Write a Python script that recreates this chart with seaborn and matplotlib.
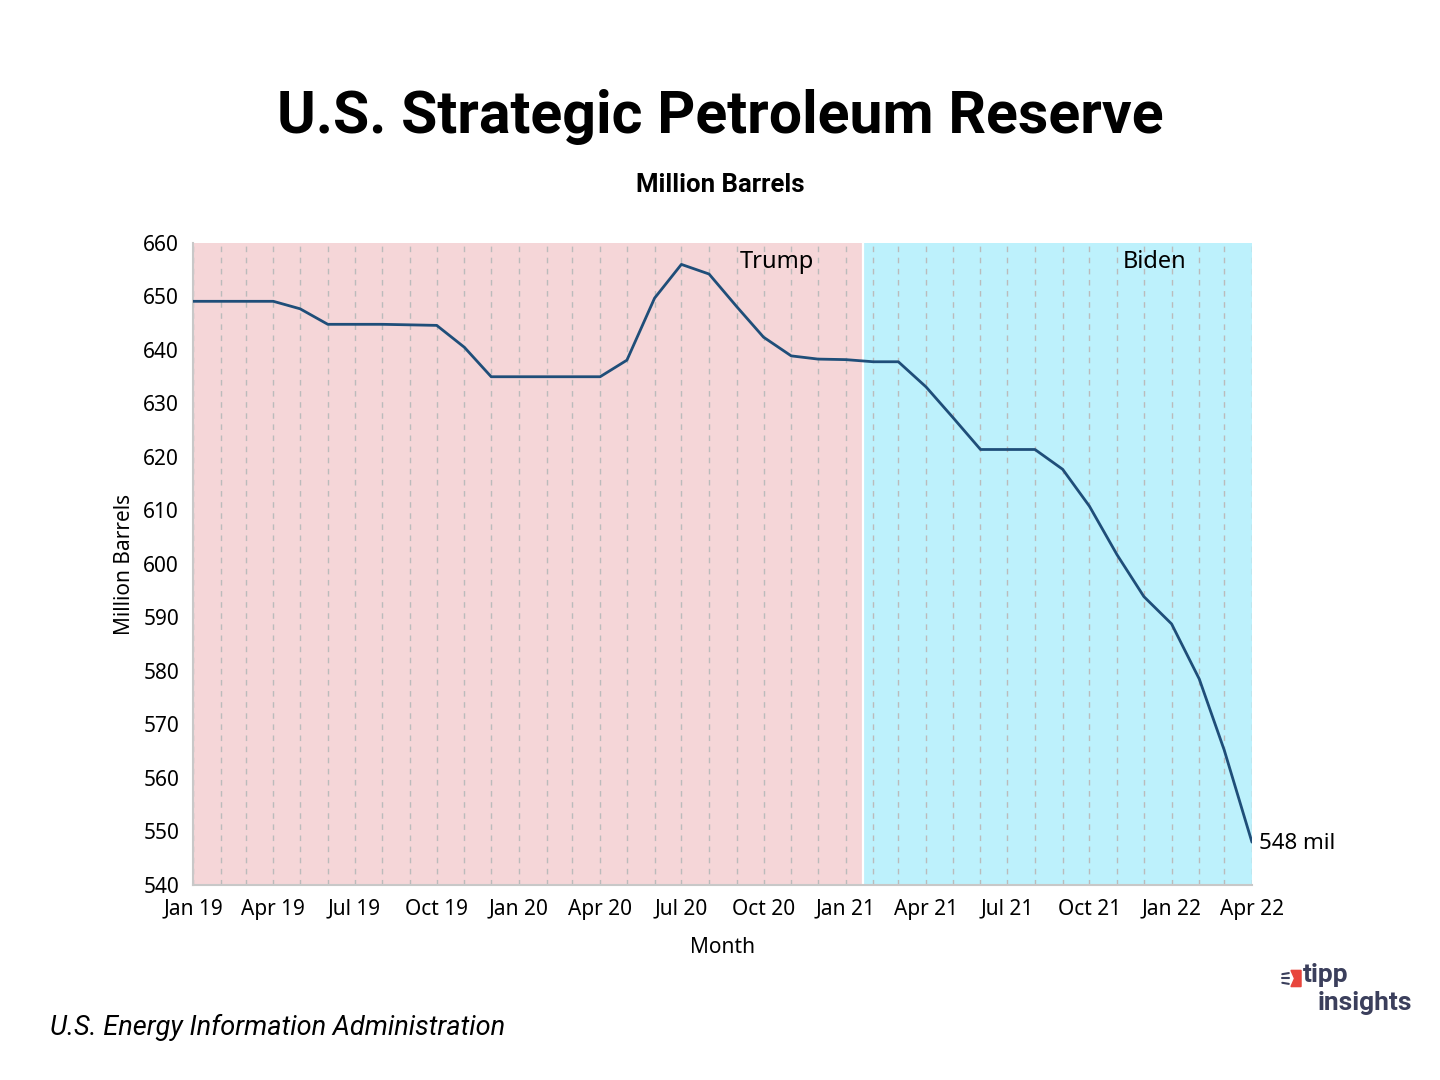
import pandas as pd
import numpy as np
import matplotlib
matplotlib.use("Agg")
import matplotlib.pyplot as plt
import matplotlib.dates as mdates
import seaborn as sns
from matplotlib.patches import Polygon
from matplotlib.lines import Line2D

# 月次データ
months = [
    "Jan 19", "Feb 19", "Mar 19", "Apr 19", "May 19", "Jun 19", "Jul 19", "Aug 19",
    "Sep 19", "Oct 19", "Nov 19", "Dec 19", "Jan 20", "Feb 20", "Mar 20", "Apr 20",
    "May 20", "Jun 20", "Jul 20", "Aug 20", "Sep 20", "Oct 20", "Nov 20", "Dec 20",
    "Jan 21", "Feb 21", "Mar 21", "Apr 21", "May 21", "Jun 21", "Jul 21", "Aug 21",
    "Sep 21", "Oct 21", "Nov 21", "Dec 21", "Jan 22", "Feb 22", "Mar 22", "Apr 22",
]
barrels = [
    649.1, 649.1, 649.1, 649.1, 647.7, 644.8, 644.8, 644.8,
    644.7, 644.6, 640.5, 635.0, 635.0, 635.0, 635.0, 635.0,
    638.1, 649.7, 656.0, 654.2, 648.1, 642.4, 638.9, 638.3,
    638.2, 637.8, 637.8, 633.1, 627.4, 621.4, 621.4, 621.4,
    617.7, 610.8, 601.7, 593.9, 588.8, 578.5, 565.2, 548.0,
]

# 政権期間
terms = ["Trump", "Biden"]
term_start = ["2019-01-01", "2021-01-20"]
term_end = ["2021-01-20", "2022-04-01"]
term_colors = ["#f5d6d8", "#bdf1fc"]
term_label_x = ["2020-10-16", "2021-12-13"]

df = pd.DataFrame({
    "Month": pd.to_datetime(months, format="%b %y"),
    "Million Barrels": barrels,
})

sns.set_style("white")
plt.rcParams["font.family"] = ["Noto Sans", "DejaVu Sans"]
plt.rcParams["text.color"] = "black"
plt.rcParams["axes.labelcolor"] = "black"

fig = plt.figure(figsize=(14.4, 10.8), dpi=100)
ax = fig.add_axes([0.134, 0.1806, 0.7354, 0.5944])

# 背景の塗り分け
for name, s, e, c in zip(terms, term_start, term_end, term_colors):
    ax.axvspan(pd.Timestamp(s), pd.Timestamp(e), color=c, lw=0, zorder=0)
ax.axvline(pd.Timestamp(term_start[1]), color="white", lw=1.6, zorder=1)

sns.lineplot(data=df, x="Month", y="Million Barrels", color="#1f4e79",
             linewidth=2, ax=ax, zorder=3)

ax.set_xlim(df["Month"].iloc[0], df["Month"].iloc[-1])
ax.set_ylim(540, 660)
ax.set_yticks(range(540, 661, 10))

ax.xaxis.set_major_locator(mdates.MonthLocator(bymonth=[1, 4, 7, 10]))
ax.xaxis.set_major_formatter(mdates.DateFormatter("%b %y"))
ax.xaxis.set_minor_locator(mdates.MonthLocator())
ax.grid(axis="x", which="both", linestyle=(0, (4, 4)), color="#bbbbbb",
        linewidth=1, zorder=1)
ax.grid(axis="y", visible=False)
ax.set_axisbelow(True)

for side in ["top", "right"]:
    ax.spines[side].set_visible(False)
for side in ["left", "bottom"]:
    ax.spines[side].set_color("#c8c8c8")
    ax.spines[side].set_linewidth(1.5)
ax.tick_params(axis="both", which="major", length=7, width=1, color="#c8c8c8",
               labelsize=15, labelcolor="black", pad=3)
ax.tick_params(axis="x", which="minor", length=0)

ax.set_xlabel("Month", fontsize=15, labelpad=12)
ax.set_ylabel("Million Barrels", fontsize=15, labelpad=6)

# 政権ラベル
for name, lx in zip(terms, term_label_x):
    ax.text(pd.Timestamp(lx), 656.5, name, fontsize=17, ha="center",
            va="center", color="black")
ax.annotate("548 mil", xy=(df["Month"].iloc[-1], barrels[-1]), xytext=(5, -1),
            textcoords="offset points", fontsize=16, va="center", ha="left",
            annotation_clip=False)

fig.text(0.5, 0.892, "U.S. Strategic Petroleum Reserve", ha="center", va="center",
         fontsize=42.5, fontweight="bold", color="black",
         family=["Roboto", "DejaVu Sans"])
fig.text(0.5, 0.829, "Million Barrels", ha="center", va="center", fontsize=18.5,
         fontweight="bold", color="black", family=["Roboto", "DejaVu Sans"])
fig.text(0.035, 0.049, "U.S. Energy Information Administration", ha="left",
         va="center", fontsize=19.5, style="italic", color="black",
         family=["Roboto", "DejaVu Sans"])

# ロゴ
logo_color = "#3b3f5c"
fig.text(0.9045, 0.0975, "tipp", ha="left", va="center", fontsize=19,
         fontweight="bold", color=logo_color, family=["Roboto", "DejaVu Sans"])
fig.text(0.915, 0.0715, "insights", ha="left", va="center", fontsize=19,
         fontweight="bold", color=logo_color, family=["Roboto", "DejaVu Sans"])
fig.patches.append(Polygon([[0.8965, 0.0865], [0.9035, 0.0865], [0.9035, 0.1015],
                            [0.8965, 0.1015], [0.8990, 0.094]], closed=True,
                           transform=fig.transFigure, color="#e8453c"))
for y0, y1 in [(0.098, 0.099), (0.094, 0.094), (0.090, 0.089)]:
    fig.add_artist(Line2D([0.8905, 0.8950], [y0, y1], transform=fig.transFigure,
                          color=logo_color, lw=1.5))

fig.savefig("out.png", dpi=100)
